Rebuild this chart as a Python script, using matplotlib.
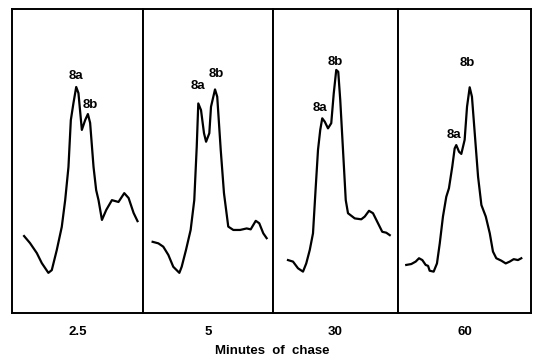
import matplotlib
matplotlib.use("Agg")
import matplotlib.pyplot as plt

# 追跡時間（分）ごとの溶出パターン（相対位置, 相対吸光度）
chase_labels = ["2.5", "5", "30", "60"]

x_25 = [9.2, 13.7, 18.9, 22.7, 27.7, 30.3, 34.1, 37.9, 40.5, 43.0, 44.8, 46.8, 48.9, 50.6,
        53.2, 55.7, 57.8, 59.5, 62.1, 64.1, 65.9, 68.5, 71.8, 76.1, 81.1, 85.5, 88.8, 92.6, 95.6]
y_25 = [25.2, 22.9, 19.6, 16.3, 13.1, 14.0, 20.6, 28.2, 37.0, 47.9, 63.3, 68.9, 74.2, 72.2,
        60.1, 63.3, 65.3, 62.4, 47.9, 40.3, 37.0, 30.5, 33.8, 37.0, 36.4, 39.3, 37.7, 32.8, 30.1]

x_5 = [7.2, 11.6, 15.4, 19.3, 23.1, 27.8, 29.6, 32.9, 36.5, 39.3, 41.2, 42.4, 44.5, 46.8, 48.4,
       50.9, 52.2, 55.3, 57.0, 59.7, 62.2, 65.5, 69.4, 74.6, 79.7, 82.8, 86.7, 89.4, 92.5, 95.1]
y_5 = [23.3, 22.8, 21.7, 19.0, 15.1, 13.1, 15.1, 20.6, 27.2, 37.0, 54.6, 68.8, 66.6, 59.0, 56.2,
       59.0, 67.7, 73.4, 71.0, 53.5, 39.3, 28.3, 27.2, 27.2, 27.7, 27.4, 30.2, 29.4, 26.1, 24.5]

x_30 = [12.0, 16.0, 20.0, 24.0, 26.6, 29.4, 32.0, 34.2, 36.0, 37.8, 39.4, 41.4, 44.0, 46.6, 48.6,
        50.6, 52.2, 53.8, 56.0, 58.2, 60.0, 65.4, 70.6, 73.4, 76.8, 80.0, 84.0, 87.4, 90.6, 93.4]
y_30 = [17.3, 16.8, 14.6, 13.5, 16.2, 20.6, 26.1, 41.4, 53.5, 60.1, 63.9, 62.8, 60.6, 62.3, 72.1,
        79.8, 79.2, 69.9, 53.5, 37.0, 32.7, 31.0, 30.7, 31.6, 33.5, 32.7, 29.4, 26.6, 26.3, 25.5]

x_60 = [6.2, 10.0, 13.3, 15.8, 18.3, 20.8, 22.6, 23.8, 26.8, 29.3, 31.4, 33.8, 36.3, 38.3, 40.8,
        42.6, 43.8, 45.9, 47.6, 50.1, 51.9, 53.9, 55.6, 57.7, 60.2, 62.7, 66.0, 69.0, 71.4, 73.9,
        77.7, 81.0, 84.0, 87.0, 90.2, 92.7]
y_60 = [15.7, 16.0, 16.8, 17.9, 17.3, 15.7, 15.4, 13.8, 13.5, 16.2, 22.8, 31.6, 38.1, 40.9, 48.0,
        54.0, 55.1, 52.9, 52.2, 56.8, 67.7, 74.1, 71.0, 59.0, 44.7, 35.4, 31.6, 26.1, 20.1, 17.9,
        17.1, 16.2, 16.8, 17.6, 17.3, 17.9]

# ピークラベル（8a, 8b）の位置
peak_8a = [(48.9, 77.7), (41.9, 74.5), (37.9, 67.2), (41.9, 58.4)]
peak_8b = [(59.5, 68.3), (56.0, 78.5), (50.2, 82.5), (52.4, 82.2)]

traces = [(x_25, y_25), (x_5, y_5), (x_30, y_30), (x_60, y_60)]


def main():
    matplotlib.rcParams["font.family"] = ["Liberation Sans", "DejaVu Sans"]
    matplotlib.rcParams["font.weight"] = "bold"

    fig = plt.figure(figsize=(5.33, 3.59), dpi=100)

    # パネルの境界（ピクセル）
    edges = [12, 143.3, 273, 398, 531]
    top, bottom = 8.5, 312.7
    W, H = 533.0, 359.0

    for i, (xs, ys) in enumerate(traces):
        left = edges[i] / W
        width = (edges[i + 1] - edges[i]) / W
        ax = fig.add_axes([left, 1 - bottom / H, width, (bottom - top) / H])
        ax.plot(xs, ys, color="black", linewidth=1.6, solid_joinstyle="round")
        ax.set_xlim(0, 100)
        ax.set_ylim(0, 100)
        ax.set_xticks([])
        ax.set_yticks([])
        for sp in ax.spines.values():
            sp.set_linewidth(1.4)

        ax.text(*peak_8a[i], "8a", ha="center", va="center", fontsize=9.5, fontweight="heavy")
        ax.text(*peak_8b[i], "8b", ha="center", va="center", fontsize=9.5, fontweight="heavy")

        ax.text(0.5, -0.065, chase_labels[i], transform=ax.transAxes,
                ha="center", va="center", fontsize=9.5, fontweight="heavy")

    fig.text(272 / W, 1 - 351 / H, "Minutes  of  chase", ha="center", va="center",
             fontsize=9.5, fontweight="heavy")

    fig.savefig("out.png", dpi=100)


if __name__ == "__main__":
    main()
